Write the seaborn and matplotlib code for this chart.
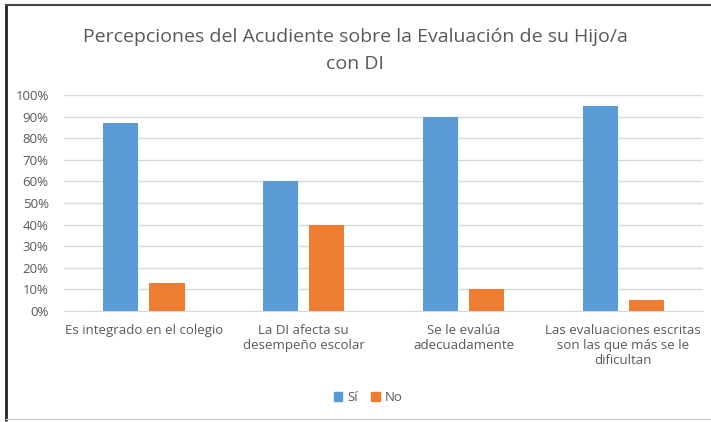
import pandas as pd
import matplotlib
matplotlib.use('Agg')
import matplotlib.pyplot as plt
import seaborn as sns
from matplotlib.ticker import PercentFormatter

# Datos
categorias = [
    'Es integrado en el colegio',
    'La DI afecta su\ndesempeño escolar',
    'Se le evalúa\nadecuadamente',
    'Las evaluaciones escritas\nson las que más se le\ndificultan',
]
valores_si = [0.87, 0.60, 0.90, 0.95]
valores_no = [0.13, 0.40, 0.10, 0.05]
series = ['Sí', 'No']
colores = ['#5B9BD5', '#ED7D31']

df = pd.DataFrame({
    'Categoria': categorias * 2,
    'Respuesta': [series[0]] * 4 + [series[1]] * 4,
    'Valor': valores_si + valores_no,
})

sns.set_style('white')
plt.rcParams['font.family'] = ['Open Sans', 'DejaVu Sans']
gris = '#595959'

fig = plt.figure(figsize=(7.11, 4.22), dpi=100)
ax = fig.add_axes([0.090, 0.263, 0.899, 0.512])

sns.barplot(data=df, x='Categoria', y='Valor', hue='Respuesta',
            palette=colores, width=0.58, gap=0.24, ax=ax,
            saturation=1, legend=False, linewidth=0)

ax.set_ylim(0, 1)
ax.set_xlim(-0.5, 3.5)
ax.set_yticks([i / 10 for i in range(11)])
ax.yaxis.set_major_formatter(PercentFormatter(1.0, decimals=0))
ax.grid(axis='y', color='#d9d9d9', linewidth=1)
ax.set_axisbelow(True)
for s in ['top', 'right', 'left']:
    ax.spines[s].set_visible(False)
ax.spines['bottom'].set_color('#d9d9d9')
ax.tick_params(axis='both', length=0, colors=gris, labelsize=9.5)
ax.tick_params(axis='x', pad=9)
ax.tick_params(axis='y', pad=11)
ax.set_xlabel('')
ax.set_ylabel('')

fig.text(0.5, 0.88, 'Percepciones del Acudiente sobre la Evaluación de su Hijo/a\ncon DI',
         ha='center', va='center', fontsize=14, color=gris, linespacing=1.6)

# Leyenda inferior
handles = [plt.Rectangle((0, 0), 1, 1, color=c) for c in colores]
fig.legend(handles, series, loc='center', bbox_to_anchor=(0.518, 0.057),
           ncol=2, frameon=False, fontsize=9.5, handlelength=0.65,
           handleheight=0.65, handletextpad=0.4, columnspacing=1.0,
           labelcolor=gris)

# Marco de la imagen
fig.add_artist(plt.Line2D([0.009, 0.009], [0.005, 0.988], color='#222222', lw=2,
                          transform=fig.transFigure))
fig.add_artist(plt.Line2D([0.009, 1.0], [0.988, 0.988], color='#444444', lw=1.5,
                          transform=fig.transFigure))
fig.add_artist(plt.Line2D([0.009, 1.0], [0.007, 0.007], color='#cccccc', lw=1,
                          transform=fig.transFigure))

plt.savefig('out.png', dpi=100)
